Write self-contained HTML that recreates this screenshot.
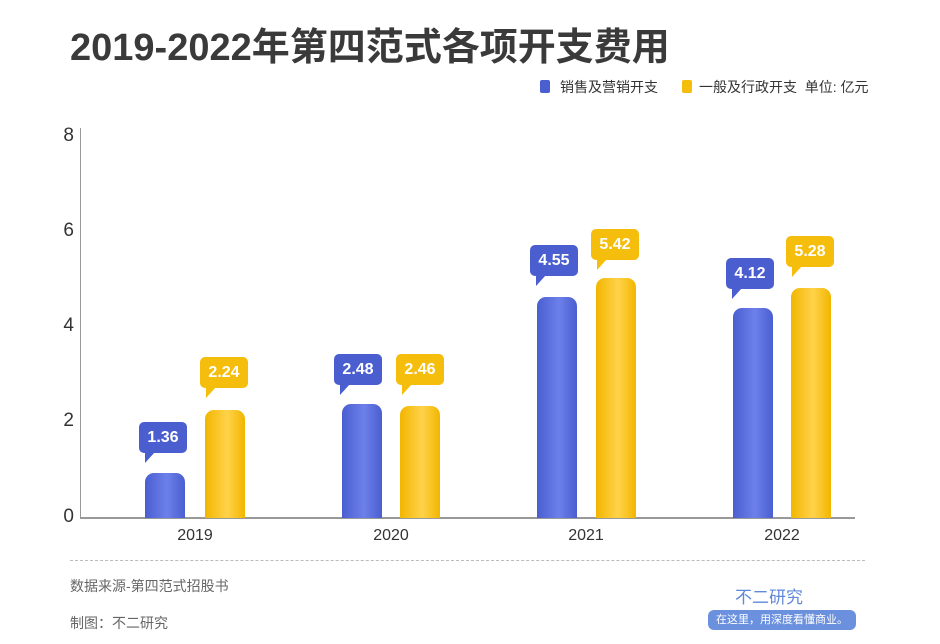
<!DOCTYPE html>
<html><head><meta charset="utf-8"><style>
body{margin:0;width:940px;height:644px;background:#fff;position:relative;overflow:hidden;font-family:"Liberation Sans","Noto Sans CJK SC",sans-serif}
.a{position:absolute}
.bar{position:absolute;border-radius:9px 9px 0 0}
.b{background:linear-gradient(90deg,#4a5ed0,#6d80ea 55%,#4a5ed0)}
.y{background:linear-gradient(90deg,#f2b600,#ffd24a 55%,#f2b600)}
.lb{position:absolute;width:48px;height:31px;border-radius:5px;color:#fff;font-weight:bold;font-size:16px;line-height:31px;text-align:center}
.lb:after{content:"";position:absolute;left:6px;bottom:-10px;border-left:0 solid transparent;border-right:10px solid transparent;border-top:11px solid}
.lb.b{background:#4a5ed0}.lb.b:after{border-top-color:#4a5ed0}
.lb.y{background:#f5bd0c}.lb.y:after{border-top-color:#f5bd0c}
.tk{position:absolute;left:50px;width:24px;text-align:right;font-size:19px;color:#333}
.yr{position:absolute;top:527px;width:60px;text-align:center;font-size:16px;color:#333}
</style></head><body>
<div class="a" style="left:70px;top:16px;font-size:38px;font-weight:bold;color:#3a3a3a;white-space:nowrap">2019-2022年第四范式各项开支费用</div>
<div class="a" style="left:540px;top:80px;width:10px;height:13px;background:#4a5ed0;border-radius:2px"></div>
<div class="a" style="left:560px;top:77px;font-size:14px;color:#333">销售及营销开支</div>
<div class="a" style="left:682px;top:80px;width:10px;height:13px;background:#f5bd0c;border-radius:2px"></div>
<div class="a" style="left:699px;top:77px;font-size:14px;color:#333;white-space:nowrap">一般及行政开支&nbsp;&nbsp;单位: 亿元</div>
<div class="a" style="left:80px;top:128px;width:1px;height:390px;background:#999"></div>
<div class="a" style="left:80px;top:517px;width:775px;height:2px;background:#999"></div>
<div class="tk" style="top:125px">8</div>
<div class="tk" style="top:220px">6</div>
<div class="tk" style="top:315px">4</div>
<div class="tk" style="top:410px">2</div>
<div class="tk" style="top:506px">0</div>
<div class="bar b" style="left:145px;top:473px;width:40px;height:45px"></div>
<div class="bar y" style="left:205px;top:410px;width:40px;height:108px"></div>
<div class="bar b" style="left:342px;top:404px;width:40px;height:114px"></div>
<div class="bar y" style="left:400px;top:406px;width:40px;height:112px"></div>
<div class="bar b" style="left:537px;top:297px;width:40px;height:221px"></div>
<div class="bar y" style="left:596px;top:278px;width:40px;height:240px"></div>
<div class="bar b" style="left:733px;top:308px;width:40px;height:210px"></div>
<div class="bar y" style="left:791px;top:288px;width:40px;height:230px"></div>
<div class="lb b" style="left:139px;top:422px">1.36</div>
<div class="lb y" style="left:200px;top:357px">2.24</div>
<div class="lb b" style="left:334px;top:354px">2.48</div>
<div class="lb y" style="left:396px;top:354px">2.46</div>
<div class="lb b" style="left:530px;top:245px">4.55</div>
<div class="lb y" style="left:591px;top:229px">5.42</div>
<div class="lb b" style="left:726px;top:258px">4.12</div>
<div class="lb y" style="left:786px;top:236px">5.28</div>
<div class="yr" style="left:165px">2019</div>
<div class="yr" style="left:361px">2020</div>
<div class="yr" style="left:556px">2021</div>
<div class="yr" style="left:752px">2022</div>
<div class="a" style="left:70px;top:560px;width:795px;border-top:1px dashed #bbb"></div>
<div class="a" style="left:70px;top:576px;font-size:14px;color:#666">数据来源-第四范式招股书</div>
<div class="a" style="left:70px;top:613px;font-size:14px;color:#666">制图：不二研究</div>
<div class="a" style="left:735px;top:583px;font-size:17px;color:#5f88d8">不二研究</div>
<div class="a" style="left:708px;top:610px;width:148px;height:20px;background:#6b90dd;border-radius:6px;color:#fff;font-size:11px;line-height:20px;text-align:center">在这里，用深度看懂商业。</div>
</body></html>
